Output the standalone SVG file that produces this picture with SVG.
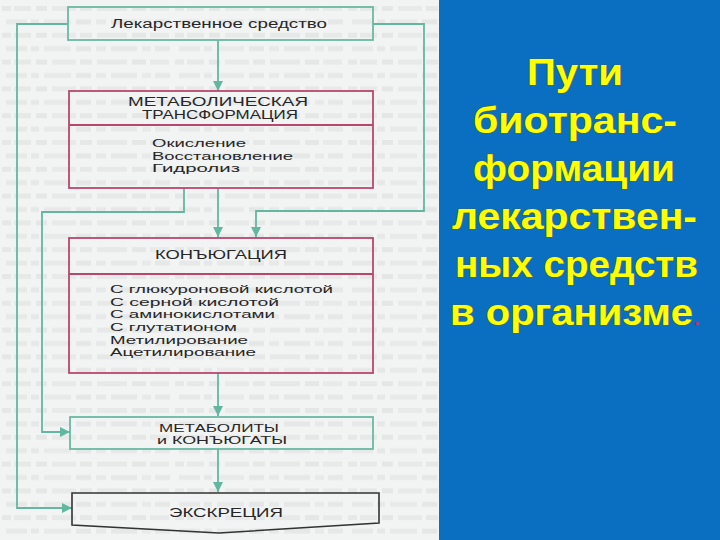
<svg xmlns="http://www.w3.org/2000/svg" width="720" height="540" viewBox="0 0 720 540">
  <defs>
    <pattern id="ghost" x="0" y="3" width="173" height="26.8" patternUnits="userSpaceOnUse">
      <rect x="2" y="3" width="9" height="5" fill="#e6e8e8"/>
      <rect x="14" y="3" width="17" height="5" fill="#e7e9e9"/>
      <rect x="36" y="3" width="11" height="5" fill="#e5e7e7"/>
      <rect x="52" y="3" width="24" height="5" fill="#e8eaea"/>
      <rect x="80" y="3" width="12" height="5" fill="#e6e8e8"/>
      <rect x="97" y="3" width="30" height="5" fill="#e7e9e9"/>
      <rect x="132" y="3" width="14" height="5" fill="#e5e7e7"/>
      <rect x="150" y="3" width="19" height="5" fill="#e8eaea"/>
      <rect x="6" y="16.4" width="21" height="5" fill="#e7e9e9"/>
      <rect x="31" y="16.4" width="8" height="5" fill="#e6e8e8"/>
      <rect x="44" y="16.4" width="27" height="5" fill="#e8eaea"/>
      <rect x="76" y="16.4" width="15" height="5" fill="#e5e7e7"/>
      <rect x="96" y="16.4" width="10" height="5" fill="#e7e9e9"/>
      <rect x="111" y="16.4" width="26" height="5" fill="#e6e8e8"/>
      <rect x="142" y="16.4" width="9" height="5" fill="#e8eaea"/>
      <rect x="155" y="16.4" width="15" height="5" fill="#e6e8e8"/>
    </pattern>
    <marker id="ah" markerUnits="userSpaceOnUse" markerWidth="10" markerHeight="10" refX="10" refY="5" orient="auto">
      <path d="M0,0 L10,5 L0,10 Z" fill="#63b7a1"/>
    </marker>
    <style>
      .t { font-family: "Liberation Sans", Arial, sans-serif; fill: #262626; }
      .teal { fill: none; stroke: #6ab9a4; stroke-width: 1.8; }
      .mag { fill: none; stroke: #b8476f; stroke-width: 1.8; }
      .conn { fill: none; stroke: #63b7a1; stroke-width: 1.8; }
      .y { font-family: "Liberation Sans", Arial, sans-serif; font-weight: bold; font-size: 36px; fill: #ffff00; stroke: #5a5a20; stroke-width: 0.7; paint-order: stroke; }
    </style>
  </defs>

  <rect x="0" y="0" width="720" height="540" fill="#f2f3f3"/>
  <rect x="0" y="0" width="440" height="540" fill="url(#ghost)"/>

  <g id="connectors">
    <path class="conn" d="M218,40 V91" marker-end="url(#ah)"/>
    <path class="conn" d="M373,24 H424 V211 H256 V237" marker-end="url(#ah)"/>
    <path class="conn" d="M218,188 V237" marker-end="url(#ah)"/>
    <path class="conn" d="M184,188 V212 H42 V432 H70" marker-end="url(#ah)"/>
    <path class="conn" d="M68,24 H17 V508 H72" marker-end="url(#ah)"/>
    <path class="conn" d="M218,373 V416" marker-end="url(#ah)"/>
    <path class="conn" d="M218,449 V492" marker-end="url(#ah)"/>
  </g>

  <g id="drug">
    <rect class="teal" x="68" y="7" width="305" height="33"/>
    <text class="t" x="111" y="28" font-size="12" textLength="216" lengthAdjust="spacingAndGlyphs">Лекарственное средство</text>
  </g>

  <g id="metabolic">
    <rect class="mag" x="69" y="91" width="304" height="97"/>
    <line class="mag" x1="69" y1="125" x2="373" y2="125"/>
    <text class="t" x="128" y="106" font-size="12" textLength="180" lengthAdjust="spacingAndGlyphs">МЕТАБОЛИЧЕСКАЯ</text>
    <text class="t" x="142" y="119" font-size="12" textLength="156" lengthAdjust="spacingAndGlyphs">ТРАНСФОРМАЦИЯ</text>
    <text class="t" x="152" y="147" font-size="11.5" textLength="94" lengthAdjust="spacingAndGlyphs">Окисление</text>
    <text class="t" x="152" y="160" font-size="11.5" textLength="141" lengthAdjust="spacingAndGlyphs">Восстановление</text>
    <text class="t" x="152" y="172" font-size="11.5" textLength="88" lengthAdjust="spacingAndGlyphs">Гидролиз</text>
  </g>

  <g id="conjugation">
    <rect class="mag" x="69" y="238" width="304" height="135"/>
    <line class="mag" x1="69" y1="274" x2="373" y2="274"/>
    <text class="t" x="155" y="259" font-size="12.5" textLength="132" lengthAdjust="spacingAndGlyphs">КОНЪЮГАЦИЯ</text>
    <text class="t" x="110" y="293" font-size="11.5" textLength="223" lengthAdjust="spacingAndGlyphs">С глюкуроновой кислотой</text>
    <text class="t" x="110" y="306" font-size="11.5" textLength="169" lengthAdjust="spacingAndGlyphs">С серной кислотой</text>
    <text class="t" x="110" y="318" font-size="11.5" textLength="165" lengthAdjust="spacingAndGlyphs">С аминокислотами</text>
    <text class="t" x="110" y="331" font-size="11.5" textLength="127" lengthAdjust="spacingAndGlyphs">С глутатионом</text>
    <text class="t" x="110" y="344" font-size="11.5" textLength="138" lengthAdjust="spacingAndGlyphs">Метилирование</text>
    <text class="t" x="110" y="356" font-size="11.5" textLength="146" lengthAdjust="spacingAndGlyphs">Ацетилирование</text>
  </g>

  <g id="metabolites">
    <rect class="teal" x="70" y="417" width="303" height="32"/>
    <text class="t" x="159" y="432" font-size="11.5" textLength="120" lengthAdjust="spacingAndGlyphs">МЕТАБОЛИТЫ</text>
    <text class="t" x="157" y="444" font-size="11.5" textLength="130" lengthAdjust="spacingAndGlyphs">и КОНЪЮГАТЫ</text>
  </g>

  <g id="excretion">
    <path d="M72,493 H379 V523 L219,533 L72,525 Z" fill="none" stroke="#333" stroke-width="1.6"/>
    <text class="t" x="169" y="517" font-size="13" textLength="114" lengthAdjust="spacingAndGlyphs">ЭКСКРЕЦИЯ</text>
  </g>

  <g id="title">
    <rect x="439" y="0" width="281" height="540" fill="#0a6fc0"/>
    <text class="y" x="527" y="85" textLength="96" lengthAdjust="spacingAndGlyphs">Пути</text>
    <text class="y" x="473" y="133" textLength="204" lengthAdjust="spacingAndGlyphs">биотранс-</text>
    <text class="y" x="473" y="181" textLength="202" lengthAdjust="spacingAndGlyphs">формации</text>
    <text class="y" x="452" y="229" textLength="245" lengthAdjust="spacingAndGlyphs">лекарствен-</text>
    <text class="y" x="455" y="277" textLength="243" lengthAdjust="spacingAndGlyphs">ных средств</text>
    <text class="y" x="450" y="325" textLength="243" lengthAdjust="spacingAndGlyphs">в организме</text>
    <text x="694" y="325" font-family="Liberation Sans, Arial, sans-serif" font-weight="bold" font-size="20" fill="#c0306a">.</text>
  </g>
</svg>
